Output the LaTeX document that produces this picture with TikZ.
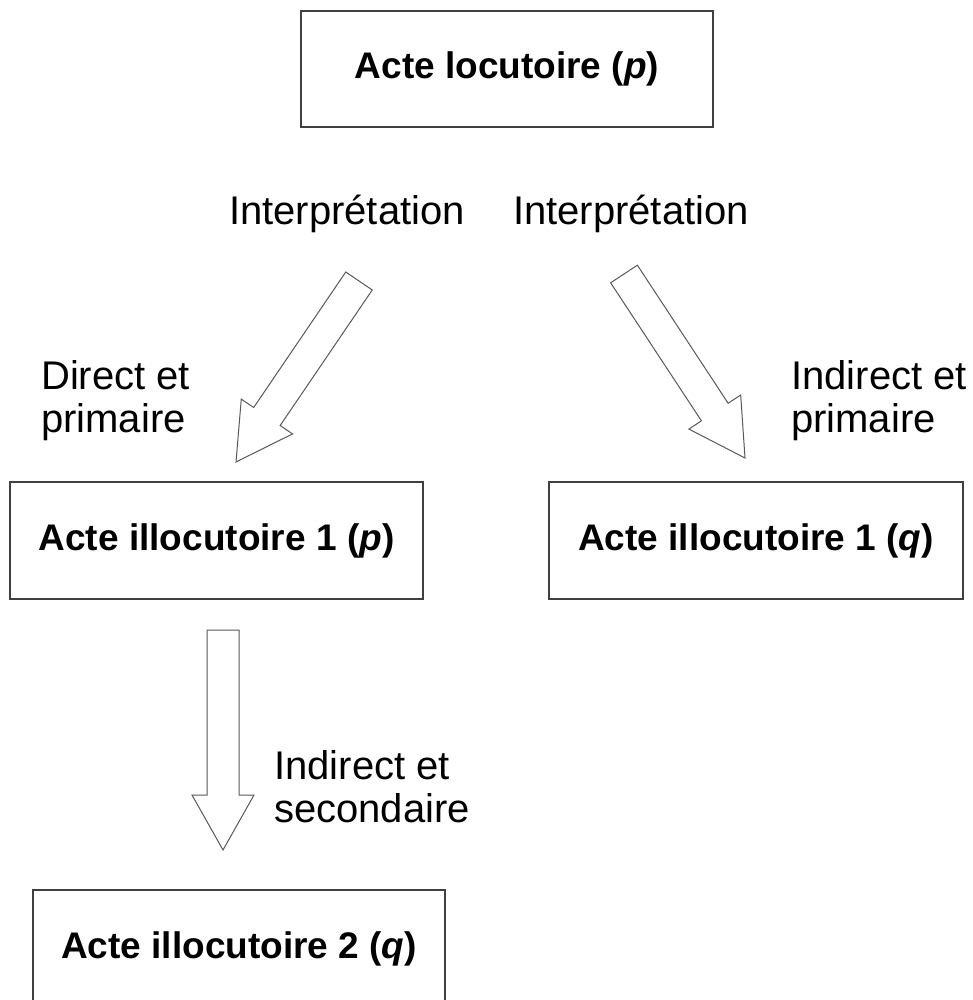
\documentclass[tikz,border=0pt]{standalone}
\usepackage{fontspec}
\setmainfont{Liberation Sans}
\usetikzlibrary{calc}
\tikzset{
  actbox/.style={draw=black!75, line width=1.3pt, fill=white, inner sep=0pt,
    font=\fontsize{37}{44}\selectfont\bfseries, align=center},
  lbl/.style={inner sep=0pt, font=\fontsize{40}{43}\selectfont, align=left},
  blockarrow/.style={draw=black!65, line width=1pt, fill=white, line join=miter}
}
\newcommand{\blockarr}[2]{%
  \draw[blockarrow]
    ($(#1)!16pt!90:(#2)$) --
    ($($(#2)!55pt!(#1)$)!16pt!90:(#2)$) --
    ($($(#2)!55pt!(#1)$)!31pt!90:(#2)$) --
    (#2) --
    ($($(#2)!55pt!(#1)$)!31pt!-90:(#2)$) --
    ($($(#2)!55pt!(#1)$)!16pt!-90:(#2)$) --
    ($(#1)!16pt!-90:(#2)$) -- cycle;}
\begin{document}
\begin{tikzpicture}[x=1pt,y=-1pt]
\useasboundingbox (0,0) rectangle (973,1000);
\clip (0,0) rectangle (973,1000);
% boxes
\node[actbox, minimum width=412pt, minimum height=116pt] (loc) at (507,69) {Acte locutoire (\textit{p})};
\node[actbox, minimum width=413pt, minimum height=117pt] (ill1p) at (216.5,540.5) {Acte illocutoire 1 (\textit{p})};
\node[actbox, minimum width=414pt, minimum height=117pt] (ill1q) at (756,540.5) {Acte illocutoire 1 (\textit{q})};
\node[actbox, minimum width=412pt, minimum height=117pt] (ill2q) at (239,948.5) {Acte illocutoire 2 (\textit{q})};
% labels
\node[lbl] (interL) at (347,214) {Interprétation};
\node[lbl] (interR) at (631,214) {Interprétation};
\node[lbl, anchor=west] (dirprim) at (41,401) {Direct et\\primaire};
\node[lbl, anchor=west] (indprim) at (791,401) {Indirect et\\primaire};
\node[lbl, anchor=west] (indsec) at (274,787) {Indirect et\\secondaire};
% arrow ends
\coordinate (aLs) at (359,281);
\coordinate (aLe) at (236,462);
\coordinate (aRs) at (624,274);
\coordinate (aRe) at (745,458);
\coordinate (aVs) at (223,630);
\coordinate (aVe) at (223,850);
\blockarr{aLs}{aLe}
\blockarr{aRs}{aRe}
\blockarr{aVs}{aVe}
\end{tikzpicture}
\end{document}
